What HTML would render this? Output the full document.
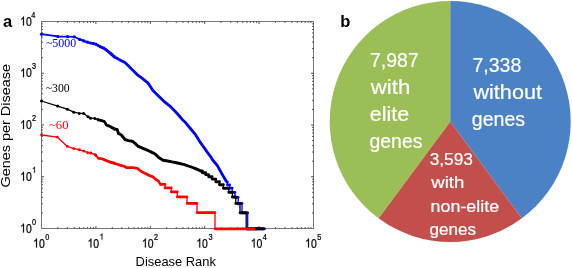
<!DOCTYPE html>
<html><head><meta charset="utf-8"><style>
html,body{margin:0;padding:0;background:#fff;}
svg{display:block;}
text{font-family:"Liberation Sans",sans-serif;}
.tl text{font-size:12.6px;fill:#000;}
.tl{stroke:#000;stroke-width:0.25px;}
.tl .s{font-size:8.6px;}
.pw text{fill:#fff;stroke:#fff;stroke-width:0.2px;}
.tm{font-family:"Liberation Serif",serif;font-size:12.2px;}
</style></head><body>
<svg width="572" height="268" viewBox="0 0 572 268">
<defs><filter id="bl" x="0" y="0" width="1" height="1"><feGaussianBlur stdDeviation="0.4"/></filter></defs>
<rect width="572" height="268" fill="#fff"/>
<g filter="url(#bl)">
<rect x="41.5" y="21.5" width="272" height="207" fill="none" stroke="#777" stroke-width="1"/>
<path d="M57.88 228.5v-1.4M57.88 21.5v1.4M67.46 228.5v-1.4M67.46 21.5v1.4M74.25 228.5v-1.4M74.25 21.5v1.4M79.52 228.5v-1.4M79.52 21.5v1.4M83.83 228.5v-1.4M83.83 21.5v1.4M87.47 228.5v-1.4M87.47 21.5v1.4M90.63 228.5v-1.4M90.63 21.5v1.4M93.41 228.5v-1.4M93.41 21.5v1.4M95.90 228.5v-2.4M95.90 21.5v2.4M112.28 228.5v-1.4M112.28 21.5v1.4M121.86 228.5v-1.4M121.86 21.5v1.4M128.65 228.5v-1.4M128.65 21.5v1.4M133.92 228.5v-1.4M133.92 21.5v1.4M138.23 228.5v-1.4M138.23 21.5v1.4M141.87 228.5v-1.4M141.87 21.5v1.4M145.03 228.5v-1.4M145.03 21.5v1.4M147.81 228.5v-1.4M147.81 21.5v1.4M150.30 228.5v-2.4M150.30 21.5v2.4M166.68 228.5v-1.4M166.68 21.5v1.4M176.26 228.5v-1.4M176.26 21.5v1.4M183.05 228.5v-1.4M183.05 21.5v1.4M188.32 228.5v-1.4M188.32 21.5v1.4M192.63 228.5v-1.4M192.63 21.5v1.4M196.27 228.5v-1.4M196.27 21.5v1.4M199.43 228.5v-1.4M199.43 21.5v1.4M202.21 228.5v-1.4M202.21 21.5v1.4M204.70 228.5v-2.4M204.70 21.5v2.4M221.08 228.5v-1.4M221.08 21.5v1.4M230.66 228.5v-1.4M230.66 21.5v1.4M237.45 228.5v-1.4M237.45 21.5v1.4M242.72 228.5v-1.4M242.72 21.5v1.4M247.03 228.5v-1.4M247.03 21.5v1.4M250.67 228.5v-1.4M250.67 21.5v1.4M253.83 228.5v-1.4M253.83 21.5v1.4M256.61 228.5v-1.4M256.61 21.5v1.4M259.10 228.5v-2.4M259.10 21.5v2.4M275.48 228.5v-1.4M275.48 21.5v1.4M285.06 228.5v-1.4M285.06 21.5v1.4M291.85 228.5v-1.4M291.85 21.5v1.4M297.12 228.5v-1.4M297.12 21.5v1.4M301.43 228.5v-1.4M301.43 21.5v1.4M305.07 228.5v-1.4M305.07 21.5v1.4M308.23 228.5v-1.4M308.23 21.5v1.4M311.01 228.5v-1.4M311.01 21.5v1.4M41.5 212.92h1.4M313.5 212.92h-1.4M41.5 203.81h1.4M313.5 203.81h-1.4M41.5 197.34h1.4M313.5 197.34h-1.4M41.5 192.33h1.4M313.5 192.33h-1.4M41.5 188.23h1.4M313.5 188.23h-1.4M41.5 184.77h1.4M313.5 184.77h-1.4M41.5 181.77h1.4M313.5 181.77h-1.4M41.5 179.12h1.4M313.5 179.12h-1.4M41.5 176.75h2.4M313.5 176.75h-2.4M41.5 161.17h1.4M313.5 161.17h-1.4M41.5 152.06h1.4M313.5 152.06h-1.4M41.5 145.59h1.4M313.5 145.59h-1.4M41.5 140.58h1.4M313.5 140.58h-1.4M41.5 136.48h1.4M313.5 136.48h-1.4M41.5 133.02h1.4M313.5 133.02h-1.4M41.5 130.02h1.4M313.5 130.02h-1.4M41.5 127.37h1.4M313.5 127.37h-1.4M41.5 125.00h2.4M313.5 125.00h-2.4M41.5 109.42h1.4M313.5 109.42h-1.4M41.5 100.31h1.4M313.5 100.31h-1.4M41.5 93.84h1.4M313.5 93.84h-1.4M41.5 88.83h1.4M313.5 88.83h-1.4M41.5 84.73h1.4M313.5 84.73h-1.4M41.5 81.27h1.4M313.5 81.27h-1.4M41.5 78.27h1.4M313.5 78.27h-1.4M41.5 75.62h1.4M313.5 75.62h-1.4M41.5 73.25h2.4M313.5 73.25h-2.4M41.5 57.67h1.4M313.5 57.67h-1.4M41.5 48.56h1.4M313.5 48.56h-1.4M41.5 42.09h1.4M313.5 42.09h-1.4M41.5 37.08h1.4M313.5 37.08h-1.4M41.5 32.98h1.4M313.5 32.98h-1.4M41.5 29.52h1.4M313.5 29.52h-1.4M41.5 26.52h1.4M313.5 26.52h-1.4M41.5 23.87h1.4M313.5 23.87h-1.4" stroke="#444" stroke-width="1" fill="none"/>
<g fill="none" stroke-linejoin="round" stroke-linecap="round"><polyline points="41.5,34.2 47.0,34.9 52.6,35.7 57.9,36.5 67.5,36.7 74.3,36.8 79.5,39.3 79.5,39.3" stroke="#0000ff" stroke-width="1.8"/><polyline points="79.5,39.3 83.8,40.9 87.5,42.2 90.6,43.0 93.4,43.6 95.9,44.2 100.3,46.8 104.5,48.5 108.7,51.8 114.5,56.9 114.5,56.9" stroke="#0000ff" stroke-width="2.2"/><polyline points="114.5,56.9 120.4,60.3 125.0,62.6 128.6,66.1 132.3,69.7 137.1,74.6 142.0,78.2 148.1,83.1 150.5,86.7 152.9,90.4 159.0,96.4 163.9,101.3 169.9,106.1 176.0,112.2 179.4,116.0 182.2,119.4 185.3,122.3 190.4,128.5 195.5,134.7 200.7,142.9 205.8,150.1 211.0,157.3 212.7,160.0 217.4,165.6 222.0,174.0 226.6,181.8 227.4,181.8 227.4,184.8 229.6,184.8 229.6,188.2 232.2,188.2 232.2,192.3 235.0,192.3 235.0,197.3 238.2,197.3 238.2,203.8 242.0,203.4 242.0,212.8 247.7,212.8 247.7,228.8 264.6,228.8" stroke="#0000ff" stroke-width="1.3"/><path d="M114.5 56.9L120.4 60.3M120.4 60.3L125.0 62.6M125.0 62.6L128.6 66.1M128.6 66.1L132.3 69.7M132.3 69.7L137.1 74.6M137.1 74.6L142.0 78.2M142.0 78.2L148.1 83.1M148.1 83.1L150.5 86.7M150.5 86.7L152.9 90.4M152.9 90.4L159.0 96.4M159.0 96.4L163.9 101.3M163.9 101.3L169.9 106.1M169.9 106.1L176.0 112.2M176.0 112.2L179.4 116.0M179.4 116.0L182.2 119.4M182.2 119.4L185.3 122.3M185.3 122.3L190.4 128.5M190.4 128.5L195.5 134.7M195.5 134.7L200.7 142.9M200.7 142.9L205.8 150.1M205.8 150.1L211.0 157.3M211.0 157.3L212.7 160.0M212.7 160.0L217.4 165.6M217.4 165.6L222.0 174.0M222.0 174.0L226.6 181.8M226.6 181.8L227.4 181.8M227.4 184.8L229.6 184.8M229.6 188.2L232.2 188.2M232.2 192.3L235.0 192.3M235.0 197.3L238.2 197.3M238.2 203.8L242.0 203.4M242.0 212.8L247.7 212.8M247.7 228.8L264.6 228.8" stroke="#0000ff" stroke-width="2.8"/><circle cx="41.5" cy="34.2" r="1.60" fill="#0000ff"/><circle cx="57.9" cy="36.5" r="1.60" fill="#0000ff"/><circle cx="67.5" cy="36.7" r="1.60" fill="#0000ff"/><circle cx="74.3" cy="36.8" r="1.60" fill="#0000ff"/><circle cx="79.5" cy="39.3" r="1.60" fill="#0000ff"/><circle cx="83.8" cy="40.9" r="1.60" fill="#0000ff"/><circle cx="87.5" cy="42.2" r="1.60" fill="#0000ff"/><circle cx="90.6" cy="43.0" r="1.60" fill="#0000ff"/><circle cx="93.4" cy="43.6" r="1.60" fill="#0000ff"/><circle cx="95.9" cy="44.2" r="1.60" fill="#0000ff"/><circle cx="98.2" cy="45.5" r="1.60" fill="#0000ff"/><circle cx="100.2" cy="46.7" r="1.60" fill="#0000ff"/><circle cx="102.1" cy="47.5" r="1.60" fill="#0000ff"/><circle cx="103.8" cy="48.2" r="1.60" fill="#0000ff"/><circle cx="105.5" cy="49.3" r="1.60" fill="#0000ff"/><circle cx="107.0" cy="50.5" r="1.60" fill="#0000ff"/><circle cx="108.4" cy="51.6" r="1.60" fill="#0000ff"/><circle cx="109.8" cy="52.8" r="1.60" fill="#0000ff"/><circle cx="111.1" cy="53.9" r="1.60" fill="#0000ff"/><circle cx="112.3" cy="54.9" r="1.60" fill="#0000ff"/><circle cx="113.4" cy="56.0" r="1.60" fill="#0000ff"/><circle cx="114.5" cy="56.9" r="1.60" fill="#0000ff"/><polyline points="41.5,101.0 57.6,106.1 67.3,109.2 73.8,112.2 79.3,113.4 83.7,113.4 88.0,116.7 90.6,118.2 94.9,118.4 98.2,119.7 98.3,119.7" stroke="#000" stroke-width="1.3"/><polyline points="98.3,119.7 100.2,120.2 104.8,121.5 106.1,125.0 109.4,126.0 114.5,129.0" stroke="#000" stroke-width="2.0"/><polyline points="114.5,129.0 114.6,129.0 117.2,129.6 118.5,133.5 121.1,134.8 125.0,139.5 128.4,140.6 132.3,141.2 135.1,143.4 137.9,146.2 142.9,148.4 148.5,150.7 151.9,152.4 155.2,154.0 158.6,157.4 163.1,160.2 167.6,161.0 172.0,161.9 177.6,163.0 184.4,164.7 191.2,167.0 195.0,168.4 200.7,170.9 202.3,170.9 202.3,172.7 205.6,172.7 205.6,174.6 208.7,174.6 208.7,176.8 212.1,176.8 212.1,179.1 215.8,179.1 215.8,181.8 219.5,181.8 219.5,184.8 223.4,184.8 223.4,188.2 228.8,188.2 228.8,192.3 232.4,192.3 232.4,197.0 235.8,197.0 235.8,203.4 240.0,203.4 240.0,212.8 246.2,212.8 246.2,228.8 263.6,228.8" stroke="#000" stroke-width="1.3"/><path d="M114.6 129.0L117.2 129.6M117.2 129.6L118.5 133.5M118.5 133.5L121.1 134.8M121.1 134.8L125.0 139.5M125.0 139.5L128.4 140.6M128.4 140.6L132.3 141.2M132.3 141.2L135.1 143.4M135.1 143.4L137.9 146.2M137.9 146.2L142.9 148.4M142.9 148.4L148.5 150.7M148.5 150.7L151.9 152.4M151.9 152.4L155.2 154.0M155.2 154.0L158.6 157.4M158.6 157.4L163.1 160.2M163.1 160.2L167.6 161.0M167.6 161.0L172.0 161.9M172.0 161.9L177.6 163.0M177.6 163.0L184.4 164.7M184.4 164.7L191.2 167.0M191.2 167.0L195.0 168.4M195.0 168.4L200.7 170.9M200.7 170.9L202.3 170.9M202.3 172.7L205.6 172.7M205.6 174.6L208.7 174.6M208.7 176.8L212.1 176.8M212.1 179.1L215.8 179.1M215.8 181.8L219.5 181.8M219.5 184.8L223.4 184.8M223.4 188.2L228.8 188.2M228.8 192.3L232.4 192.3M232.4 197.0L235.8 197.0M235.8 203.4L240.0 203.4M240.0 212.8L246.2 212.8M246.2 228.8L263.6 228.8" stroke="#000" stroke-width="2.9"/><circle cx="41.5" cy="101.0" r="1.50" fill="#000"/><circle cx="57.6" cy="106.1" r="1.50" fill="#000"/><circle cx="67.3" cy="109.2" r="1.50" fill="#000"/><circle cx="73.8" cy="112.2" r="1.50" fill="#000"/><circle cx="79.3" cy="113.4" r="1.50" fill="#000"/><circle cx="83.7" cy="113.4" r="1.50" fill="#000"/><circle cx="88.0" cy="116.7" r="1.50" fill="#000"/><circle cx="90.6" cy="118.2" r="1.50" fill="#000"/><circle cx="94.9" cy="118.4" r="1.50" fill="#000"/><circle cx="98.2" cy="119.7" r="1.50" fill="#000"/><circle cx="98.2" cy="119.7" r="1.50" fill="#000"/><circle cx="100.2" cy="120.2" r="1.50" fill="#000"/><circle cx="102.1" cy="120.7" r="1.50" fill="#000"/><circle cx="103.8" cy="121.2" r="1.50" fill="#000"/><circle cx="105.5" cy="123.3" r="1.50" fill="#000"/><circle cx="107.0" cy="125.3" r="1.50" fill="#000"/><circle cx="108.4" cy="125.7" r="1.50" fill="#000"/><circle cx="109.8" cy="126.2" r="1.50" fill="#000"/><circle cx="111.1" cy="127.0" r="1.50" fill="#000"/><circle cx="112.3" cy="127.7" r="1.50" fill="#000"/><circle cx="113.4" cy="128.3" r="1.50" fill="#000"/><circle cx="114.5" cy="129.0" r="1.50" fill="#000"/><polyline points="41.5,135.0 57.3,137.1 67.3,146.4 73.8,148.6 79.3,149.8 83.8,151.1 87.6,152.7 90.7,153.0 95.2,154.6 95.3,154.7" stroke="#ff0000" stroke-width="1.4"/><polyline points="95.3,154.7 98.4,158.4 102.8,159.0 106.2,160.6 110.7,162.3 114.5,163.2" stroke="#ff0000" stroke-width="2.0"/><polyline points="114.5,163.2 115.2,163.4 119.6,165.1 124.1,166.2 126.4,167.7 133.1,167.7 137.6,168.5 140.9,171.3 145.4,173.5 149.9,175.8 152.5,176.6 155.0,178.8 158.8,181.4 160.5,184.4 165.0,184.4 165.0,187.9 171.3,187.9 171.3,191.9 177.3,191.9 177.3,196.9 187.0,196.9 187.0,203.3 197.0,203.3 197.0,212.6 215.0,212.6 215.0,228.8 254.2,228.8" stroke="#ff0000" stroke-width="1.3"/><path d="M114.5 163.2L115.2 163.4M115.2 163.4L119.6 165.1M119.6 165.1L124.1 166.2M124.1 166.2L126.4 167.7M126.4 167.7L133.1 167.7M133.1 167.7L137.6 168.5M137.6 168.5L140.9 171.3M140.9 171.3L145.4 173.5M145.4 173.5L149.9 175.8M149.9 175.8L152.5 176.6M152.5 176.6L155.0 178.8M155.0 178.8L158.8 181.4M158.8 181.4L160.5 184.4M160.5 184.4L165.0 184.4M165.0 187.9L171.3 187.9M171.3 191.9L177.3 191.9M177.3 196.9L187.0 196.9M187.0 203.3L197.0 203.3M197.0 212.6L215.0 212.6M215.0 228.8L254.2 228.8" stroke="#ff0000" stroke-width="2.7"/><circle cx="41.5" cy="135.0" r="1.45" fill="#ff0000"/><circle cx="57.3" cy="137.1" r="1.45" fill="#ff0000"/><circle cx="67.3" cy="146.4" r="1.45" fill="#ff0000"/><circle cx="73.8" cy="148.6" r="1.45" fill="#ff0000"/><circle cx="79.3" cy="149.8" r="1.45" fill="#ff0000"/><circle cx="83.8" cy="151.1" r="1.45" fill="#ff0000"/><circle cx="87.6" cy="152.7" r="1.45" fill="#ff0000"/><circle cx="90.7" cy="153.0" r="1.45" fill="#ff0000"/><circle cx="95.2" cy="154.6" r="1.45" fill="#ff0000"/><circle cx="95.9" cy="155.4" r="1.45" fill="#ff0000"/><circle cx="98.2" cy="158.1" r="1.45" fill="#ff0000"/><circle cx="100.2" cy="158.6" r="1.45" fill="#ff0000"/><circle cx="102.1" cy="158.9" r="1.45" fill="#ff0000"/><circle cx="103.8" cy="159.5" r="1.45" fill="#ff0000"/><circle cx="105.5" cy="160.3" r="1.45" fill="#ff0000"/><circle cx="107.0" cy="160.9" r="1.45" fill="#ff0000"/><circle cx="108.4" cy="161.4" r="1.45" fill="#ff0000"/><circle cx="109.8" cy="162.0" r="1.45" fill="#ff0000"/><circle cx="111.1" cy="162.4" r="1.45" fill="#ff0000"/><circle cx="112.3" cy="162.7" r="1.45" fill="#ff0000"/><circle cx="113.4" cy="163.0" r="1.45" fill="#ff0000"/><circle cx="114.5" cy="163.2" r="1.45" fill="#ff0000"/></g>
<g class="tl">
<g transform="translate(33.10,247.50) scale(0.83,1)"><path d="M3.59 0.00L4.69 0.00L4.69 -9.02L3.97 -9.02L3.69 -8.49L3.20 -7.94L2.58 -7.44L1.85 -7.01L1.37 -6.77L1.37 -5.70L2.03 -5.96L2.77 -6.40L3.59 -7.01Z"/><text x="7.0" y="0">0</text></g><text transform="translate(45.20,239.60) scale(0.85,1)" class="s">0</text>
<g transform="translate(87.50,247.50) scale(0.83,1)"><path d="M3.59 0.00L4.69 0.00L4.69 -9.02L3.97 -9.02L3.69 -8.49L3.20 -7.94L2.58 -7.44L1.85 -7.01L1.37 -6.77L1.37 -5.70L2.03 -5.96L2.77 -6.40L3.59 -7.01Z"/><text x="7.0" y="0">0</text></g><path transform="translate(99.60,239.60) scale(0.85,1)" d="M2.45 0.00L3.20 0.00L3.20 -6.16L2.71 -6.16L2.52 -5.79L2.18 -5.42L1.76 -5.08L1.26 -4.79L0.94 -4.62L0.94 -3.89L1.39 -4.06L1.89 -4.37L2.45 -4.79Z"/>
<g transform="translate(141.90,247.50) scale(0.83,1)"><path d="M3.59 0.00L4.69 0.00L4.69 -9.02L3.97 -9.02L3.69 -8.49L3.20 -7.94L2.58 -7.44L1.85 -7.01L1.37 -6.77L1.37 -5.70L2.03 -5.96L2.77 -6.40L3.59 -7.01Z"/><text x="7.0" y="0">0</text></g><text transform="translate(154.00,239.60) scale(0.85,1)" class="s">2</text>
<g transform="translate(196.30,247.50) scale(0.83,1)"><path d="M3.59 0.00L4.69 0.00L4.69 -9.02L3.97 -9.02L3.69 -8.49L3.20 -7.94L2.58 -7.44L1.85 -7.01L1.37 -6.77L1.37 -5.70L2.03 -5.96L2.77 -6.40L3.59 -7.01Z"/><text x="7.0" y="0">0</text></g><text transform="translate(208.40,239.60) scale(0.85,1)" class="s">3</text>
<g transform="translate(250.70,247.50) scale(0.83,1)"><path d="M3.59 0.00L4.69 0.00L4.69 -9.02L3.97 -9.02L3.69 -8.49L3.20 -7.94L2.58 -7.44L1.85 -7.01L1.37 -6.77L1.37 -5.70L2.03 -5.96L2.77 -6.40L3.59 -7.01Z"/><text x="7.0" y="0">0</text></g><text transform="translate(262.80,239.60) scale(0.85,1)" class="s">4</text>
<g transform="translate(305.10,247.50) scale(0.83,1)"><path d="M3.59 0.00L4.69 0.00L4.69 -9.02L3.97 -9.02L3.69 -8.49L3.20 -7.94L2.58 -7.44L1.85 -7.01L1.37 -6.77L1.37 -5.70L2.03 -5.96L2.77 -6.40L3.59 -7.01Z"/><text x="7.0" y="0">0</text></g><text transform="translate(317.20,239.60) scale(0.85,1)" class="s">5</text>
<g transform="translate(20.10,232.50) scale(0.83,1)"><path d="M3.59 0.00L4.69 0.00L4.69 -9.02L3.97 -9.02L3.69 -8.49L3.20 -7.94L2.58 -7.44L1.85 -7.01L1.37 -6.77L1.37 -5.70L2.03 -5.96L2.77 -6.40L3.59 -7.01Z"/><text x="7.0" y="0">0</text></g><text transform="translate(32.10,224.60) scale(0.85,1)" class="s">0</text>
<g transform="translate(20.10,180.75) scale(0.83,1)"><path d="M3.59 0.00L4.69 0.00L4.69 -9.02L3.97 -9.02L3.69 -8.49L3.20 -7.94L2.58 -7.44L1.85 -7.01L1.37 -6.77L1.37 -5.70L2.03 -5.96L2.77 -6.40L3.59 -7.01Z"/><text x="7.0" y="0">0</text></g><path transform="translate(32.10,172.85) scale(0.85,1)" d="M2.45 0.00L3.20 0.00L3.20 -6.16L2.71 -6.16L2.52 -5.79L2.18 -5.42L1.76 -5.08L1.26 -4.79L0.94 -4.62L0.94 -3.89L1.39 -4.06L1.89 -4.37L2.45 -4.79Z"/>
<g transform="translate(20.10,129.00) scale(0.83,1)"><path d="M3.59 0.00L4.69 0.00L4.69 -9.02L3.97 -9.02L3.69 -8.49L3.20 -7.94L2.58 -7.44L1.85 -7.01L1.37 -6.77L1.37 -5.70L2.03 -5.96L2.77 -6.40L3.59 -7.01Z"/><text x="7.0" y="0">0</text></g><text transform="translate(32.10,121.10) scale(0.85,1)" class="s">2</text>
<g transform="translate(20.10,77.25) scale(0.83,1)"><path d="M3.59 0.00L4.69 0.00L4.69 -9.02L3.97 -9.02L3.69 -8.49L3.20 -7.94L2.58 -7.44L1.85 -7.01L1.37 -6.77L1.37 -5.70L2.03 -5.96L2.77 -6.40L3.59 -7.01Z"/><text x="7.0" y="0">0</text></g><text transform="translate(32.10,69.35) scale(0.85,1)" class="s">3</text>
<g transform="translate(20.10,25.50) scale(0.83,1)"><path d="M3.59 0.00L4.69 0.00L4.69 -9.02L3.97 -9.02L3.69 -8.49L3.20 -7.94L2.58 -7.44L1.85 -7.01L1.37 -6.77L1.37 -5.70L2.03 -5.96L2.77 -6.40L3.59 -7.01Z"/><text x="7.0" y="0">0</text></g><text transform="translate(31.20,17.60) scale(0.85,1)" class="s">4</text>
</g>
<text x="2.9" y="26.8" style="font-weight:bold;font-size:16.5px">a</text>
<text x="340.2" y="27.1" style="font-weight:bold;font-size:16.5px">b</text>
<text x="135.6" y="265.9" style="font-size:13px" textLength="80.34" lengthAdjust="spacingAndGlyphs">Disease Rank</text>
<text transform="translate(10,187.6) rotate(-90)" style="font-size:13.5px" textLength="123.56" lengthAdjust="spacingAndGlyphs">Genes per Disease</text>
<text x="45.9" y="46.9" class="tm" fill="#0000ff" textLength="30.37" lengthAdjust="spacingAndGlyphs">~5000</text>
<text x="45.8" y="91.6" class="tm" fill="#000" textLength="23.87" lengthAdjust="spacingAndGlyphs">~300</text>
<text x="49" y="128.9" class="tm" fill="#ff0000" textLength="19.58" lengthAdjust="spacingAndGlyphs">~60</text>
<path d="M450.20 121.50L450.20 1.00A120.50 120.50 0 0 1 521.88 218.36Z" fill="#4c82c5"/>
<path d="M450.20 121.50L521.88 218.36A120.50 120.50 0 0 1 378.52 218.36Z" fill="#c3504e"/>
<path d="M450.20 121.50L378.52 218.36A120.50 120.50 0 0 1 450.20 1.00Z" fill="#9cbe56"/>
<g class="pw">
<text x="370.00" y="67.30" style="font-size:19.5px" textLength="48.81" lengthAdjust="spacingAndGlyphs">7,987</text>
<text x="370.80" y="94.10" style="font-size:19.5px" textLength="39.49" lengthAdjust="spacingAndGlyphs">with</text>
<text x="369.70" y="120.70" style="font-size:19.5px" textLength="39.58" lengthAdjust="spacingAndGlyphs">elite</text>
<text x="369.50" y="147.80" style="font-size:19.5px" textLength="52.94" lengthAdjust="spacingAndGlyphs">genes</text>
<text x="472.40" y="72.00" style="font-size:19.5px" textLength="49.01" lengthAdjust="spacingAndGlyphs">7,338</text>
<text x="473.40" y="99.00" style="font-size:19.5px" textLength="68.60" lengthAdjust="spacingAndGlyphs">without</text>
<text x="471.80" y="125.90" style="font-size:19.5px" textLength="53.34" lengthAdjust="spacingAndGlyphs">genes</text>
<text x="429.70" y="165.40" style="font-size:16.5px" textLength="43.30" lengthAdjust="spacingAndGlyphs">3,593</text>
<text x="431.20" y="188.40" style="font-size:16.5px" textLength="33.14" lengthAdjust="spacingAndGlyphs">with</text>
<text x="430.50" y="211.60" style="font-size:16.5px" textLength="68.70" lengthAdjust="spacingAndGlyphs">non-elite</text>
<text x="429.50" y="234.60" style="font-size:16.5px" textLength="46.57" lengthAdjust="spacingAndGlyphs">genes</text>
</g>
</g>
</svg>
</body></html>
